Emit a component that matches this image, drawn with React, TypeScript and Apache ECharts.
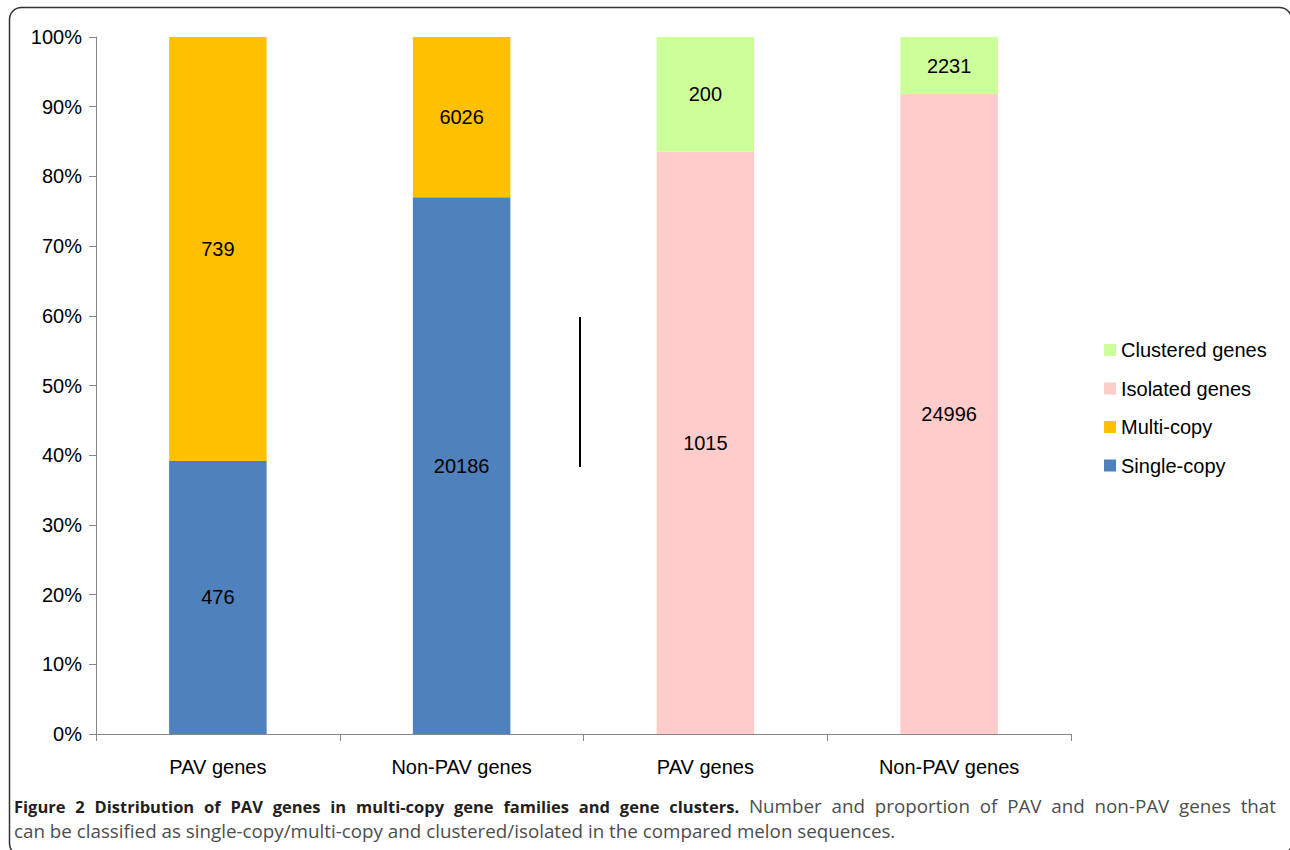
import React, { useEffect, useRef } from "react";
import * as echarts from "echarts";

const categories = ["PAV genes", "Non-PAV genes", "PAV genes", "Non-PAV genes"];
const singleCopy = [476, 20186, 0, 0];
const multiCopy = [739, 6026, 0, 0];
const isolated = [0, 0, 1015, 24996];
const clustered = [0, 0, 200, 2231];
const yTicks = [0, 10, 20, 30, 40, 50, 60, 70, 80, 90, 100];

const seriesDefs = [
  { name: "Single-copy", values: singleCopy, color: "#4F81BD" },
  { name: "Multi-copy", values: multiCopy, color: "#FFC000" },
  { name: "Isolated genes", values: isolated, color: "#FFCCCC" },
  { name: "Clustered genes", values: clustered, color: "#CCFF99" },
];

const legendOrder = ["Clustered genes", "Isolated genes", "Multi-copy", "Single-copy"];

const captionBold = "Figure 2 Distribution of PAV genes in multi-copy gene families and gene clusters.";
const captionRest1 = "Number and proportion of PAV and non-PAV genes that";
const captionLine2 =
  "can be classified as single-copy/multi-copy and clustered/isolated in the compared melon sequences.";

const BOLD_FONT = "bold 16.5px 'Open Sans', sans-serif";
const REG_FONT = "18.8px 'Open Sans', sans-serif";

function buildCaption(): any[] {
  const ctx = document.createElement("canvas").getContext("2d")!;
  const words: { t: string; font: string; fill: string; w: number }[] = [];
  captionBold.split(" ").forEach((t) => words.push({ t, font: BOLD_FONT, fill: "#231f20", w: 0 }));
  captionRest1.split(" ").forEach((t) => words.push({ t, font: REG_FONT, fill: "#4d4d4d", w: 0 }));
  let sum = 0;
  words.forEach((w) => {
    ctx.font = w.font;
    w.w = ctx.measureText(w.t).width;
    sum += w.w;
  });
  const left = 14;
  const right = 1276;
  const gap = (right - left - sum) / (words.length - 1);
  const els: any[] = [];
  let x = left;
  words.forEach((w) => {
    els.push({
      type: "text",
      x,
      y: 806,
      style: { text: w.t, font: w.font, fill: w.fill, verticalAlign: "middle" },
    });
    x += w.w + gap;
  });
  els.push({
    type: "text",
    x: left,
    y: 831,
    style: { text: captionLine2, font: REG_FONT, fill: "#4d4d4d", verticalAlign: "middle" },
  });
  return els;
}

export default function App() {
  const ref = useRef<HTMLDivElement>(null);
  useEffect(() => {
    if (!ref.current) return;
    const chart = echarts.init(ref.current, undefined, { renderer: "svg" });
    const totals = categories.map((_, i) =>
      seriesDefs.reduce((s, d) => s + d.values[i], 0)
    );
    const font = "'Liberation Sans', Arial, Helvetica, sans-serif";
    const series = seriesDefs.map((d) => ({
      name: d.name,
      type: "bar",
      stack: "total",
      barWidth: "40%",
      itemStyle: { color: d.color },
      label: {
        show: true,
        position: "inside",
        color: "#000",
        fontSize: 20,
        fontFamily: font,
        formatter: (p: any) => String(d.values[p.dataIndex]),
      },
      data: d.values.map((v, i) => (v > 0 ? (v / totals[i]) * 100 : "-")),
    }));
    chart.setOption({
      animation: false,
      backgroundColor: "#fff",
      grid: { left: 96, right: 219, top: 37, bottom: 116, containLabel: false },
      legend: {
        orient: "vertical",
        left: 1104,
        top: 340,
        padding: 0,
        itemWidth: 12,
        itemHeight: 12,
        itemGap: 18.5,
        icon: "rect",
        data: legendOrder,
        textStyle: { fontSize: 20, fontFamily: font, color: "#000" },
      },
      xAxis: {
        type: "category",
        data: categories,
        axisLine: { lineStyle: { color: "#868686", width: 1 } },
        axisTick: { show: true, length: 7, lineStyle: { color: "#868686" } },
        axisLabel: { fontSize: 20, fontFamily: font, color: "#000", margin: 23 },
      },
      yAxis: {
        type: "value",
        min: yTicks[0],
        max: yTicks[yTicks.length - 1],
        interval: 10,
        splitLine: { show: false },
        axisLine: { show: true, lineStyle: { color: "#868686", width: 1 } },
        axisTick: { show: true, length: 7, lineStyle: { color: "#868686" } },
        axisLabel: {
          fontSize: 20,
          fontFamily: font,
          color: "#000",
          margin: 14,
          formatter: "{value}%",
        },
      },
      graphic: [
        {
          type: "rect",
          shape: { x: 9.5, y: 7.5, width: 1282, height: 848, r: 12 },
          style: { fill: "none", stroke: "#333", lineWidth: 1.5 },
          silent: true,
        },
        {
          type: "line",
          shape: { x1: 580, y1: 317, x2: 580, y2: 467 },
          style: { stroke: "#000", lineWidth: 2 },
        },
        ...buildCaption(),
      ],
      series,
    });
    return () => chart.dispose();
  }, []);
  return (
    <div
      ref={ref}
      style={{ position: "absolute", left: 0, top: 0, width: 1290, height: 850 }}
    />
  );
}
